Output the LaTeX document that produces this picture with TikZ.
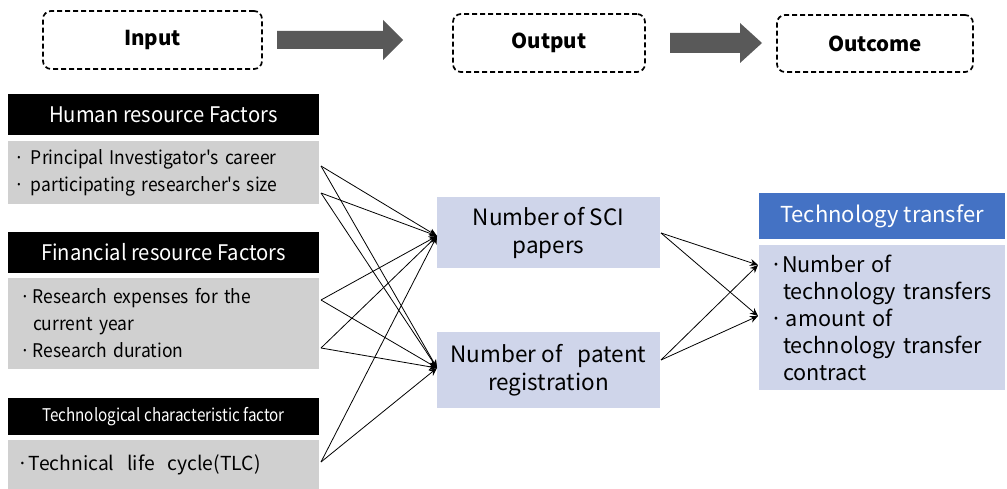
\documentclass[tikz,border=0pt]{standalone}
\usepackage{fontspec}
\setmainfont{Noto Sans CJK KR}
\newfontfamily\condfont[FakeStretch=0.94]{Noto Sans CJK KR}
\newfontfamily\bodyfont[FakeStretch=0.93]{Noto Sans CJK KR}
\newfontfamily\tightfont[FakeStretch=0.87]{Noto Sans CJK KR}
\usetikzlibrary{arrows.meta}
\definecolor{graybody}{HTML}{D0D0D0}
\definecolor{lav}{HTML}{CFD5EA}
\definecolor{bluehdr}{HTML}{4472C4}
\definecolor{arrowgray}{HTML}{595959}
\newcommand{\bul}[1]{\makebox[#1][l]{·}}
\begin{document}
\begin{tikzpicture}[x=1pt,y=-1pt,
  dbox/.style={draw, line width=1.7pt, rounded corners=8pt, dash pattern=on 5pt off 3pt,
    inner sep=0pt, font=\fontsize{20.5}{24}\selectfont\bfseries},
  hdr/.style={fill=black, text=white, inner sep=0pt, minimum width=311pt},
  gbody/.style={fill=graybody, inner sep=0pt, minimum width=311pt, align=left,
    font=\bodyfont\fontsize{18.8}{27}\selectfont},
  lbox/.style={fill=lav, inner sep=0pt, minimum width=223pt, align=center,
    font=\fontsize{22.5}{28}\selectfont},
  conn/.style={line width=0.8pt, -{Stealth[length=8pt,width=7pt]}},
  bigarrow/.style={fill=arrowgray}
]
\useasboundingbox (0,0) rectangle (1007,489);

% top row
\node[dbox, minimum width=219pt, minimum height=58pt] (input) at (152.5,40) {Input};
\node[dbox, minimum width=192pt, minimum height=58pt] (output) at (549,43) {Output};
\node[dbox, minimum width=196pt, minimum height=57pt] (outcome) at (875,43.5) {Outcome};
\fill[bigarrow] (277,31) -- (383,31) -- (383,20) -- (403,40) -- (383,60) -- (383,49) -- (277,49) -- cycle;
\fill[bigarrow] (670,33) -- (740,33) -- (740,23) -- (762,43) -- (740,63) -- (740,53) -- (670,53) -- cycle;

% left column
\node[hdr, minimum height=41pt, font=\condfont\fontsize{21.5}{24}\selectfont] (hh) at (163.5,114.5) {Human resource Factors};
\node[gbody, minimum height=63pt, text width=299pt] (hb) at (163.5,172.5) {\bul{17pt}Principal Investigator's career\\ \bul{17pt}participating researcher's size};
\node[hdr, minimum height=41pt, font=\condfont\fontsize{21.5}{24}\selectfont] (fh) at (163.5,252.5) {Financial resource Factors};
\node[gbody, minimum height=91pt, text width=287pt] (fb) at (163.5,323.5) {\bul{13pt}Research expenses for the\\ \hspace*{13pt}current year\\ \bul{13pt}Research duration};
\node[hdr, minimum height=37pt, font=\tightfont\fontsize{17.5}{20}\selectfont] (th) at (163.5,416.5) {Technological characteristic factor};
\node[gbody, minimum height=49pt, text width=293pt, font=\fontsize{19.3}{27}\selectfont] (tb) at (163.5,464.5) {\bul{12pt}Technical\ \ life\ \ cycle(TLC)};

% middle
\node[lbox, minimum height=71pt] (sci) at (548.5,232.5) {Number of SCI\\ papers};
\node[lbox, minimum height=76pt] (pat) at (548.5,370) {Number of\ \ \ patent\\ registration};

% right
\node[fill=bluehdr, text=white, inner sep=0pt, minimum width=246pt, minimum height=46pt,
  font=\fontsize{22}{24}\selectfont] (tth) at (882,216) {Technology transfer};
\node[fill=lav, inner sep=0pt, minimum width=246pt, minimum height=145pt, text width=224pt,
  align=left, font=\fontsize{21.6}{27}\selectfont] (ttb) at (882,317.5)
  {\bul{12pt}Number of\\ \hspace*{13pt}technology transfers\\ \bul{16pt}amount of\\ \hspace*{13pt}technology transfer\\ \hspace*{13pt}contract};

% connector end points
\coordinate (h1) at (321,166);
\coordinate (h2) at (321,193);
\coordinate (f1) at (321,300);
\coordinate (f2) at (321,348);
\coordinate (t1) at (321,462);
\coordinate (sciin) at (437,236);
\coordinate (patin) at (437,368);
\coordinate (sciout) at (661,233);
\coordinate (patout) at (661,360);
\coordinate (tt1) at (758,265);
\coordinate (tt2) at (758,316);

\foreach \s in {h1,h2,f1,f2,t1}{
  \draw[conn] (\s) -- (sciin);
  \draw[conn] (\s) -- (patin);
}
\foreach \s in {sciout,patout}{
  \draw[conn] (\s) -- (tt1);
  \draw[conn] (\s) -- (tt2);
}
\end{tikzpicture}
\end{document}
